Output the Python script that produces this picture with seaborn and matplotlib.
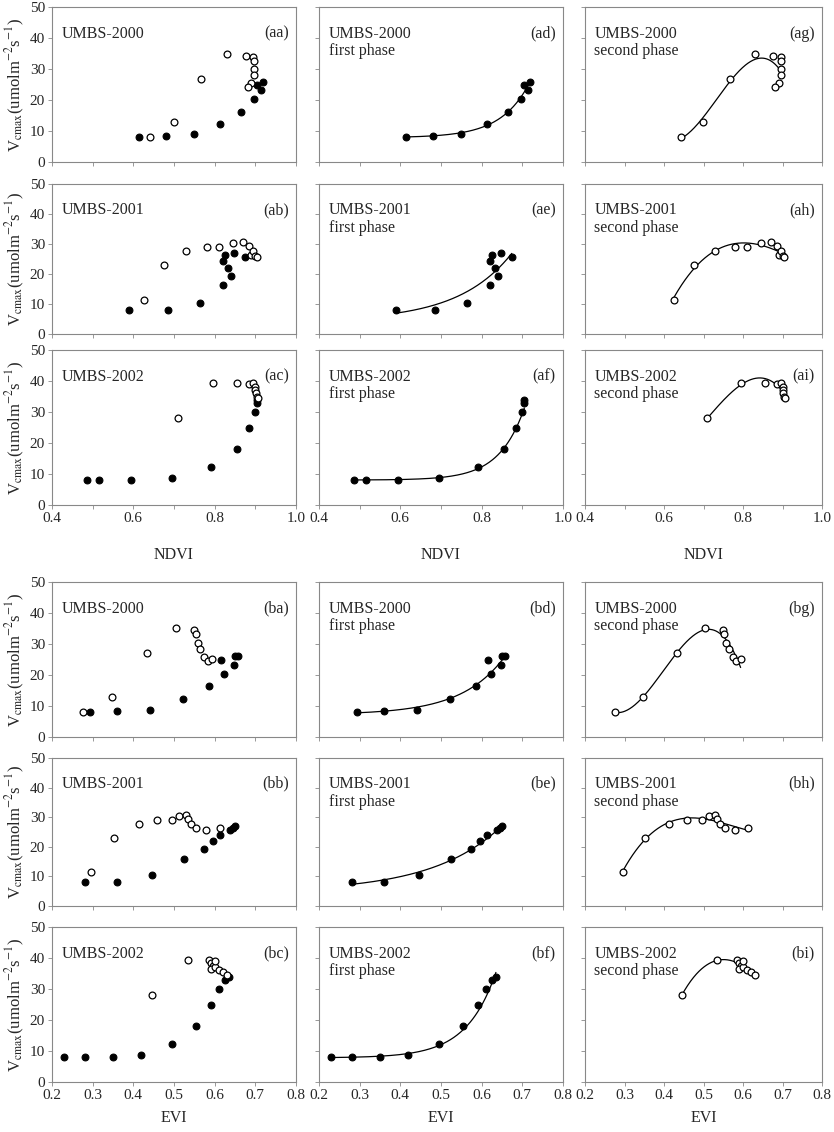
import numpy as np
import matplotlib
matplotlib.use("Agg")
import matplotlib.pyplot as plt
import seaborn as sns

sns.set_style("white")
plt.rcParams["font.family"] = ["Liberation Serif", "DejaVu Serif"]
plt.rcParams["mathtext.fontset"] = "stix"

# NDVI data (filled = first phase, open = second phase)
ndvi_2000_f = [0.613, 0.681, 0.748, 0.812, 0.864, 0.897, 0.903, 0.913, 0.918]
vc_2000_f = [8.1, 8.5, 8.9, 12.4, 16.2, 20.4, 24.7, 23.2, 25.9]
ndvi_2000_o = [0.642, 0.699, 0.767, 0.831, 0.876, 0.895, 0.897, 0.897, 0.897, 0.890, 0.882]
vc_2000_o = [8.0, 13.0, 26.8, 35.0, 34.3, 34.0, 32.7, 30.0, 28.2, 25.5, 24.3]

ndvi_2001_f = [0.59, 0.685, 0.765, 0.82, 0.821, 0.826, 0.832, 0.84, 0.847, 0.874]
vc_2001_f = [8.0, 8.1, 10.5, 16.3, 24.2, 26.3, 22.0, 19.5, 27.0, 25.8]
ndvi_2001_o = [0.625, 0.675, 0.73, 0.78, 0.81, 0.845, 0.87, 0.885, 0.89, 0.895, 0.90, 0.905]
vc_2001_o = [11.5, 23.1, 27.8, 29.0, 28.9, 30.4, 30.6, 29.4, 26.2, 27.6, 26.0, 25.8]

ndvi_2002_f = [0.485, 0.515, 0.595, 0.695, 0.79, 0.855, 0.885, 0.90, 0.905, 0.905]
vc_2002_f = [8.1, 8.1, 8.1, 8.8, 12.3, 18.2, 24.8, 30.0, 33.0, 34.0]
ndvi_2002_o = [0.71, 0.795, 0.855, 0.885, 0.895, 0.90, 0.90, 0.902, 0.905, 0.907]
vc_2002_o = [28.0, 39.2, 39.5, 39.0, 39.3, 38.0, 37.0, 36.0, 35.0, 34.5]

# EVI data
evi_2000_f = [0.293, 0.36, 0.442, 0.523, 0.585, 0.615, 0.624, 0.648, 0.65, 0.658]
vc_e2000_f = [8.0, 8.3, 8.7, 12.4, 16.3, 24.8, 20.4, 23.2, 26.2, 26.0]
evi_2000_o = [0.277, 0.347, 0.433, 0.505, 0.549, 0.553, 0.558, 0.565, 0.574, 0.583, 0.594]
vc_e2000_o = [8.0, 12.8, 27.0, 35.2, 34.6, 33.2, 30.3, 28.5, 25.7, 24.5, 25.1]

evi_2001_f = [0.28, 0.36, 0.445, 0.525, 0.574, 0.597, 0.614, 0.637, 0.645, 0.651]
vc_e2001_f = [8.0, 8.0, 10.5, 16.0, 19.2, 22.0, 23.9, 25.6, 26.3, 27.0]
evi_2001_o = [0.295, 0.352, 0.413, 0.459, 0.496, 0.513, 0.53, 0.535, 0.542, 0.554, 0.579, 0.612]
vc_e2001_o = [11.5, 23.0, 27.8, 29.0, 29.0, 30.4, 30.6, 29.4, 27.6, 26.3, 25.6, 26.3]

evi_2002_f = [0.23, 0.28, 0.35, 0.42, 0.495, 0.555, 0.59, 0.61, 0.625, 0.635]
vc_e2002_f = [8.0, 8.0, 8.0, 8.8, 12.3, 18.2, 24.8, 30.0, 33.0, 34.0]
evi_2002_o = [0.445, 0.535, 0.585, 0.59, 0.595, 0.59, 0.60, 0.61, 0.62, 0.63, 0.60]
vc_e2002_o = [28.0, 39.2, 39.5, 38.5, 37.5, 36.5, 37.0, 36.0, 35.5, 34.5, 39.0]

years = ["2000", "2001", "2002"]
ndvi_sets = [(ndvi_2000_f, vc_2000_f, ndvi_2000_o, vc_2000_o),
             (ndvi_2001_f, vc_2001_f, ndvi_2001_o, vc_2001_o),
             (ndvi_2002_f, vc_2002_f, ndvi_2002_o, vc_2002_o)]
evi_sets = [(evi_2000_f, vc_e2000_f, evi_2000_o, vc_e2000_o),
            (evi_2001_f, vc_e2001_f, evi_2001_o, vc_e2001_o),
            (evi_2002_f, vc_e2002_f, evi_2002_o, vc_e2002_o)]

W, H = 834, 1132
fig = plt.figure(figsize=(W / 100, H / 100), dpi=100)

cols = [(52, 296), (319, 563), (585, 822)]
rows_top = [(7, 162), (184, 334), (350, 505)]
rows_bot = [(582, 737), (758, 906), (927, 1082)]


def exp_fit(x, y):
    # y = c + exp(a + b x), c chosen by grid search
    x = np.asarray(x); y = np.asarray(y)
    best = None
    for c in np.linspace(0, min(y) - 0.05, 200):
        b, a = np.polyfit(x, np.log(y - c), 1)
        sse = np.sum((c + np.exp(a + b * x) - y) ** 2)
        if best is None or sse < best[0]:
            best = (sse, a, b, c)
    _, a, b, c = best
    return lambda t: c + np.exp(a + b * t)


def make_ax(c, r):
    x0, x1 = cols[c]
    y0, y1 = r
    ax = fig.add_axes([x0 / W, 1 - y1 / H, (x1 - x0) / W, (y1 - y0) / H])
    for s in ax.spines.values():
        s.set_color("#888888")
        s.set_linewidth(0.8)
    return ax


def draw_block(sets, rows, xlim, major, ticks, xlabel, letter, pad):
    labels = "abcdefghi"
    for ci in range(3):
        for ri in range(3):
            ax = make_ax(ci, rows[ri])
            xf, yf, xo, yo = sets[ri]
            if ci in (0, 1):
                sns.scatterplot(x=xf, y=yf, ax=ax, color="black", s=24,
                                edgecolor="black", linewidth=0.8, zorder=3)
            if ci in (0, 2):
                sns.scatterplot(x=xo, y=yo, ax=ax, facecolor="white", s=24,
                                edgecolor="black", linewidth=0.9, zorder=3)
            if ci == 1:
                f = exp_fit(xf, yf)
                t = np.linspace(min(xf), max(xf), 200)
                sns.lineplot(x=t, y=f(t), ax=ax, color="black", lw=0.9)
            if ci == 2:
                p = np.polyfit(xo, yo, 3)
                t = np.linspace(min(xo), max(xo), 200)
                sns.lineplot(x=t, y=np.polyval(p, t), ax=ax, color="black", lw=0.9)
            ax.set_xlim(*xlim)
            ax.set_ylim(0, 50)
            ax.set_xticks(ticks)
            ax.set_xticklabels([f"{v:.1f}" if any(abs(v - m) < 1e-9 for m in major) else ""
                                for v in ticks] if ri == 2 else [])
            ax.set_yticks(range(0, 51, 10))
            if ci == 0:
                ax.set_yticklabels([str(v) for v in range(0, 51, 10)])
                ax.set_ylabel("V$_{\\rm cmax}$(umolm$^{-2}$s$^{-1}$)", fontsize=12, labelpad=2)
            else:
                ax.set_yticklabels([])
            ax.tick_params(axis="both", length=3, width=0.6, color="#888888",
                           labelsize=11, pad=2, direction="out", left=True, bottom=True)
            name = f"UMBS-{years[ri]}"
            if ci == 0:
                txt = name
            elif ci == 1:
                txt = name + "\nfirst phase"
            else:
                txt = name + "\nsecond phase"
            ax.text(0.04, 0.88, txt, transform=ax.transAxes, fontsize=11.5,
                    va="top", linespacing=1.15)
            ax.text(0.97, 0.88, f"({letter}{labels[ci * 3 + ri]})", transform=ax.transAxes,
                    fontsize=11.5, va="top", ha="right")
            if ri == 2:
                ax.set_xlabel(xlabel, fontsize=11.5, labelpad=pad)


draw_block(ndvi_sets, rows_top, (0.4, 1.0), [0.4, 0.6, 0.8, 1.0],
           np.round(np.arange(0.4, 1.001, 0.1), 1), "NDVI", "a", 16)
draw_block(evi_sets, rows_bot, (0.2, 0.8), list(np.round(np.arange(0.2, 0.81, 0.1), 1)),
           np.round(np.arange(0.2, 0.801, 0.1), 1), "EVI", "b", 6)

fig.savefig("out.png", dpi=100)
